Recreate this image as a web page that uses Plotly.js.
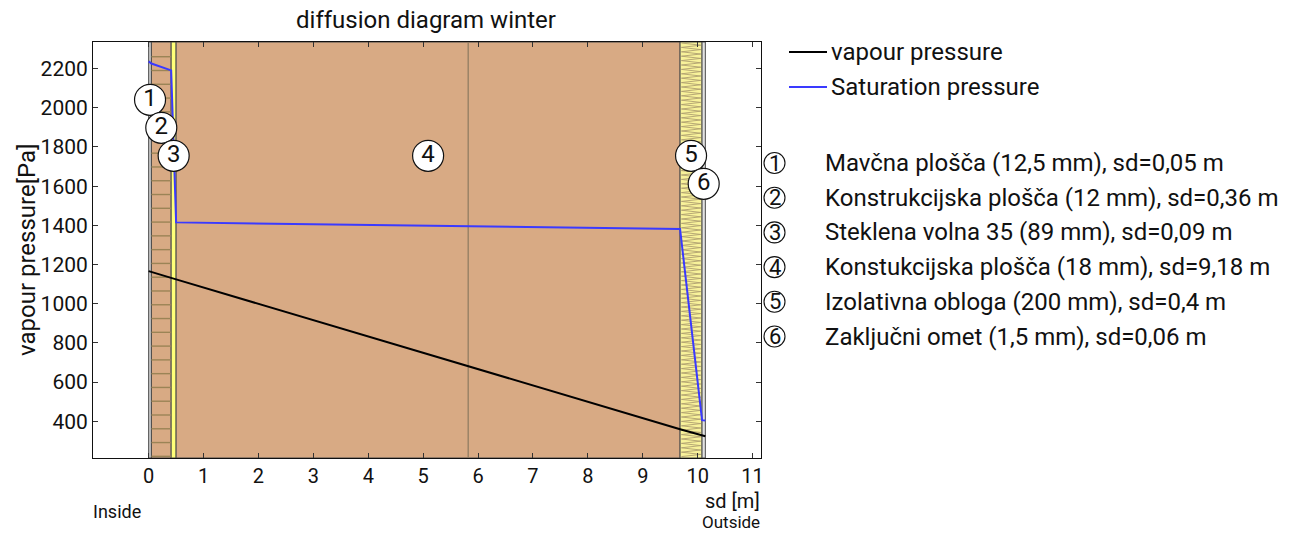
<!DOCTYPE html>
<html><head><meta charset="utf-8">
<script src="https://cdn.plot.ly/plotly-3.0.1.min.js"></script>
<style>body{margin:0;background:#fff}</style>
</head><body><div id="chart" style="width:1297px;height:533px"></div>
<script>
// ---- data ----
const layerLabels = ['1', '2', '3', '4', '5', '6'];
const layerNames = [
  'Mavčna plošča (12,5 mm), sd=0,05 m',
  'Konstrukcijska plošča (12 mm), sd=0,36 m',
  'Steklena volna 35 (89 mm), sd=0,09 m',
  'Konstukcijska plošča (18 mm), sd=9,18 m',
  'Izolativna obloga (200 mm), sd=0,4 m',
  'Zaključni omet (1,5 mm), sd=0,06 m'
];
const layerSd = [0.05, 0.36, 0.09, 9.18, 0.4, 0.06];
const vapourPressure = [1166, 1162, 1132, 1124, 359, 328, 323];       // at layer boundaries
const saturationPressure = [2237, 2226, 2191, 1415, 1381, 405, 403];  // at layer boundaries
const layer4Mark = 5.82;
const xTicks = [0, 1, 2, 3, 4, 5, 6, 7, 8, 9, 10, 11];
const yTicks = [400, 600, 800, 1000, 1200, 1400, 1600, 1800, 2000, 2200];
const seriesNames = ['vapour pressure', 'Saturation pressure'];

// ---- derived ----
const bounds = [0];
layerSd.forEach(s => bounds.push(Math.round((bounds[bounds.length - 1] + s) * 1000) / 1000));
const total = bounds[bounds.length - 1];
const centers = layerSd.map((s, i) => (bounds[i] + bounds[i + 1]) / 2);

// ---- layout helpers ----
const X0 = 93, X1 = 761, Y0 = 42, Y1 = 458;
const px = x => (x - X0) / (X1 - X0);
const py = y => (Y1 - y) / (Y1 - Y0);
const FONT = 'Roboto, "Noto Sans", sans-serif';

const layerFill = ['#cfcfcf', '#d8aa84', '#ffff78', '#d8aa84', '#f8f29a', '#e2e2e2'];
const shapes = [];
layerSd.forEach((s, i) => {
  shapes.push({type: 'rect', xref: 'x', yref: 'paper', x0: bounds[i], x1: bounds[i + 1], y0: 0, y1: 1,
    fillcolor: layerFill[i], line: {color: '#4a4a4a', width: 1}, layer: 'below'});
});
// hatch lines in layer 2
for (let y = 208.3 - 13.78 * 12; y < Y1; y += 13.78) {
  if (y <= Y0 + 1) continue;
  shapes.push({type: 'line', xref: 'x', yref: 'paper', x0: bounds[1], x1: bounds[2], y0: py(y), y1: py(y),
    line: {color: '#9b8456', width: 1.4}, layer: 'below'});
}
// zigzag in layer 5
{
  const w = bounds[5] - bounds[4];
  const xl = bounds[4] + w * 0.06, xr = bounds[5] - w * 0.06;
  let d = `M ${xl},${py(Y0 + 1)}`;
  let k = 1;
  for (let y = Y0 + 1 + 2.2; y < Y1 - 1; y += 2.2, k++) {
    d += ` L ${k % 2 ? xr : xl},${py(y)}`;
  }
  shapes.push({type: 'path', xref: 'x', yref: 'paper', path: d, line: {color: '#b0a070', width: 0.9}, layer: 'below'});
}
// vertical mark in layer 4
shapes.push({type: 'line', xref: 'x', yref: 'paper', x0: layer4Mark, x1: layer4Mark, y0: 0, y1: 1,
  line: {color: '#8c7a60', width: 1.2}, layer: 'below'});

// legend (custom)
const annotations = [];
const legendY = [52, 87];
const legendColors = ['#000000', '#3a3aff'];
seriesNames.forEach((n, i) => {
  shapes.push({type: 'line', xref: 'paper', yref: 'paper', x0: px(789), x1: px(827), y0: py(legendY[i]), y1: py(legendY[i]),
    line: {color: legendColors[i], width: 2}});
  annotations.push({xref: 'paper', yref: 'paper', x: px(829), y: py(legendY[i]), xanchor: 'left', yanchor: 'middle',
    text: n, showarrow: false, font: {family: FONT, size: 24, color: '#111'}});
});
// numbered layer list
layerNames.forEach((n, i) => {
  const yc = 163 + i * 34.7;
  shapes.push({type: 'circle', xref: 'paper', yref: 'paper', x0: px(764), x1: px(785), y0: py(yc + 10.5), y1: py(yc - 10.5),
    line: {color: '#111', width: 1.1}, fillcolor: 'rgba(0,0,0,0)'});
  annotations.push({xref: 'paper', yref: 'paper', x: px(774.5), y: py(yc), xanchor: 'center', yanchor: 'middle',
    text: layerLabels[i], showarrow: false, font: {family: FONT, size: 22, color: '#111'}});
  annotations.push({xref: 'paper', yref: 'paper', x: px(823), y: py(yc), xanchor: 'left', yanchor: 'middle',
    text: n, showarrow: false, font: {family: FONT, size: 24, color: '#111'}});
});
// axis texts
annotations.push({xref: 'paper', yref: 'paper', x: px(27), y: 0.5, textangle: -90, xanchor: 'center', yanchor: 'middle',
  text: 'vapour pressure[Pa]', showarrow: false, font: {family: FONT, size: 24, color: '#111'}});
annotations.push({xref: 'paper', yref: 'paper', x: px(762), y: py(501), xanchor: 'right', yanchor: 'middle',
  text: 'sd [m]', showarrow: false, font: {family: FONT, size: 20, color: '#111'}});
annotations.push({xref: 'paper', yref: 'paper', x: px(91), y: py(511), xanchor: 'left', yanchor: 'middle',
  text: 'Inside', showarrow: false, font: {family: FONT, size: 18, color: '#111'}});
annotations.push({xref: 'paper', yref: 'paper', x: px(762), y: py(522), xanchor: 'right', yanchor: 'middle',
  text: 'Outside', showarrow: false, font: {family: FONT, size: 17, color: '#111'}});

// label circles positions (staggered)
const labelLevel = [2, 1, 0, 0, 0, -1];
const labelY = labelLevel.map(l => 1755 + l * 143);

const traces = [
  {x: bounds, y: vapourPressure, type: 'scatter', mode: 'lines', name: seriesNames[0],
    line: {color: legendColors[0], width: 2}, showlegend: false, hoverinfo: 'skip'},
  {x: bounds, y: saturationPressure, type: 'scatter', mode: 'lines', name: seriesNames[1],
    line: {color: legendColors[1], width: 2}, showlegend: false, hoverinfo: 'skip'},
  {x: centers, y: labelY, type: 'scatter', mode: 'markers+text', text: layerLabels, textposition: 'middle center',
    marker: {size: 31, color: '#ffffff', line: {color: '#111', width: 1.2}},
    textfont: {family: FONT, size: 24, color: '#111'}, showlegend: false, hoverinfo: 'skip', cliponaxis: false}
];

const layout = {
  width: 1297, height: 533,
  margin: {l: X0, r: 1297 - X1, t: Y0, b: 533 - Y1, pad: 0},
  paper_bgcolor: '#fff', plot_bgcolor: '#fff',
  showlegend: false,
  title: {text: 'diffusion diagram winter', xref: 'container', yref: 'container', x: 426 / 1297, xanchor: 'center',
    y: 1 - 20 / 533, yanchor: 'middle', font: {family: FONT, size: 24, color: '#111'}},
  xaxis: {range: [-total * 0.1, total * 1.1], tickvals: xTicks, ticktext: xTicks.map(String),
    ticks: 'inside', ticklen: 5, tickcolor: '#333', showline: true, linecolor: '#111', linewidth: 1, mirror: 'ticks',
    showgrid: false, zeroline: false, tickfont: {family: FONT, size: 20, color: '#111'}},
  yaxis: {range: [212, 2336], tickvals: yTicks, ticktext: yTicks.map(String),
    ticks: 'inside', ticklen: 5, tickcolor: '#333', showline: true, linecolor: '#111', linewidth: 1, mirror: 'ticks',
    showgrid: false, zeroline: false, tickfont: {family: FONT, size: 21, color: '#111'}},
  shapes: shapes, annotations: annotations
};
Plotly.newPlot('chart', traces, layout, {displayModeBar: false, staticPlot: true});
</script>
</body></html>
